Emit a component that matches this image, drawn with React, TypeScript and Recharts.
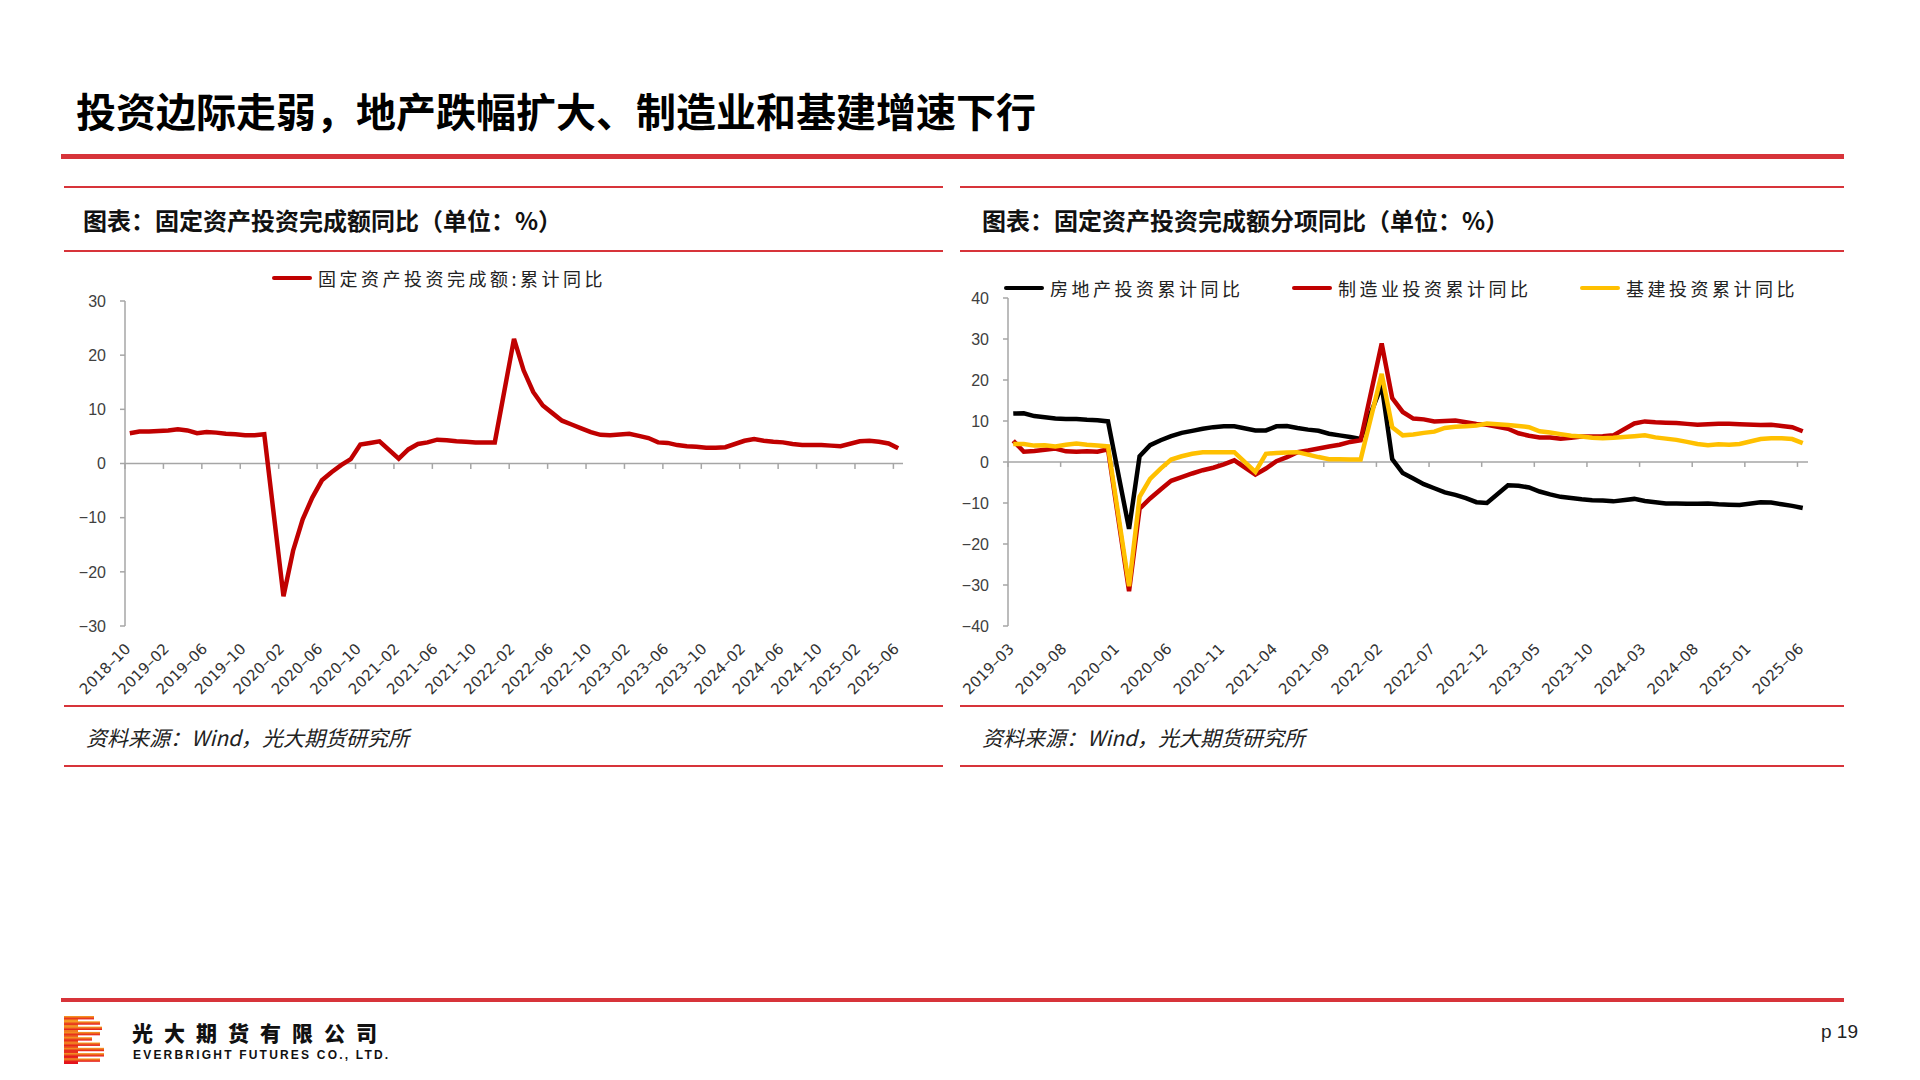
import { Line, LineChart, ReferenceLine, XAxis, YAxis } from "recharts";

const CJK = '"Noto Sans CJK SC", sans-serif';
const LATIN = '"DejaVu Sans", sans-serif';
const ARIAL = '"Liberation Sans", sans-serif';
const RULE = "#d7343a";
const AXIS = "#a6a6a6";

// month list between two yyyy-mm labels (inclusive)
const monthRange = (start: string, end: string) => {
	const [sy, sm] = start.split("-").map(Number);
	const [ey, em] = end.split("-").map(Number);
	const out: string[] = [];
	for (let y = sy, m = sm; y < ey || (y === ey && m <= em); m++) {
		if (m > 12) {
			m = 1;
			y++;
		}
		out.push(`${y}-${String(m).padStart(2, "0")}`);
	}
	return out;
};

// ---- left chart: 固定资产投资完成额:累计同比 ----
const faiMonths = monthRange("2018-10", "2025-06");
const faiTickLabels = [
	"2018-10", "2019-02", "2019-06", "2019-10", "2020-02", "2020-06", "2020-10",
	"2021-02", "2021-06", "2021-10", "2022-02", "2022-06", "2022-10", "2023-02",
	"2023-06", "2023-10", "2024-02", "2024-06", "2024-10", "2025-02", "2025-06",
];
const faiYoY = [
	5.6, 5.9, 5.9, null, 6.1, 6.3, 6.1, 5.6, 5.8, 5.7, 5.5, 5.4, 5.2, 5.2, 5.4,
	null, -24.5, -16.1, -10.3, -6.3, -3.1, -1.6, -0.3, 0.8, 3.5, 3.8, 4.1,
	null, 0.9, 2.6, 3.6, 3.9, 4.4, 4.3, 4.1, 4.0, 3.9, 3.9, 3.9,
	null, 23.0, 17.2, 13.2, 10.7, 9.3, 7.9, 7.2, 6.5, 5.8, 5.3, 5.2,
	null, 5.5, 5.1, 4.7, 3.9, 3.8, 3.4, 3.2, 3.1, 2.9, 2.9, 3.0,
	null, 4.2, 4.5, 4.2, 4.0, 3.9, 3.6, 3.4, 3.4, 3.4, 3.3, 3.2,
	null, 4.1, 4.2, 4.0, 3.7, 2.8,
];

// ---- right chart: 分项同比 ----
const subMonths = monthRange("2019-03", "2025-06");
const subTickLabels = [
	"2019-03", "2019-08", "2020-01", "2020-06", "2020-11", "2021-04", "2021-09",
	"2022-02", "2022-07", "2022-12", "2023-05", "2023-10", "2024-03", "2024-08",
	"2025-01", "2025-06",
];
const realEstateYoY = [
	11.8, 11.9, 11.2, 10.9, 10.6, 10.5, 10.5, 10.3, 10.2, 9.9,
	null, -16.3, 1.4, 4.1, 5.3, 6.3, 7.1, 7.6, 8.1, 8.5, 8.7, 8.7,
	null, 7.7, 7.7, 8.7, 8.8, 8.3, 7.9, 7.6, 6.9, 6.5, 6.1, 5.6,
	null, 18.7, 0.7, -2.7, -4.0, -5.4, -6.4, -7.4, -8.0, -8.8, -9.8, -10.0,
	null, -5.7, -5.8, -6.2, -7.2, -7.9, -8.5, -8.8, -9.1, -9.3, -9.4, -9.6,
	null, -9.0, -9.5, -9.8, -10.1, -10.1, -10.2, -10.2, -10.1, -10.3, -10.4, -10.5,
	null, -9.8, -9.9, -10.3, -10.7, -11.2,
];
const manufacturingYoY = [
	5.2, 2.5, 2.7, 3.0, 3.3, 2.6, 2.5, 2.6, 2.5, 3.1,
	null, -31.5, -11.4, -8.9, -6.7, -4.6, -3.7, -2.8, -2.0, -1.4, -0.6, 0.4,
	null, -3.1, -1.6, 0.2, 1.2, 2.4, 2.8, 3.3, 3.8, 4.2, 4.9, 5.3,
	null, 28.9, 15.6, 12.2, 10.6, 10.4, 9.9, 10.0, 10.1, 9.7, 9.3, 9.1,
	null, 8.1, 7.0, 6.4, 6.0, 6.0, 5.7, 5.9, 6.2, 6.2, 6.3, 6.5,
	null, 9.4, 9.9, 9.7, 9.6, 9.5, 9.3, 9.1, 9.2, 9.3, 9.3, 9.2,
	null, 9.0, 9.1, 8.8, 8.5, 7.5,
];
const infrastructureYoY = [
	4.4, 4.4, 4.0, 4.1, 3.8, 4.2, 4.5, 4.2, 4.0, 3.8,
	null, -30.3, -8.5, -4.1, -1.6, 0.6, 1.4, 2.0, 2.4, 2.4, 2.4, 2.4,
	null, -2.4, 2.0, 2.2, 2.3, 2.4, 1.8, 1.2, 0.7, 0.7, 0.6, 0.6,
	null, 21.5, 8.5, 6.5, 6.7, 7.1, 7.4, 8.3, 8.6, 8.7, 8.9, 9.4,
	null, 9.0, 8.8, 8.5, 7.5, 7.2, 6.8, 6.4, 6.2, 5.9, 5.8, 5.9,
	null, 6.3, 6.5, 6.0, 5.7, 5.4, 4.9, 4.4, 4.1, 4.3, 4.2, 4.4,
	null, 5.6, 5.8, 5.8, 5.6, 4.6,
];

// points sit in the middle of each month slot, ticks on the slot edges
const faiData = faiMonths.map((m, i) => ({ month: m, t: i + 0.5, fai: faiYoY[i] }));
const subData = subMonths.map((m, i) => ({
	month: m,
	t: i + 0.5,
	re: realEstateYoY[i],
	mfg: manufacturingYoY[i],
	infra: infrastructureYoY[i],
}));

const fmtY = (v: number) => (v < 0 ? `−${Math.abs(v)}` : `${v}`);

const XTick = ({ x, y, payload, months }: any) => {
	const label = months[Math.floor(payload.value)].replace("-", "–");
	return (
		<g transform={`translate(${x - 2},${y + 12}) rotate(-45)`}>
			<text textAnchor="end" dy="0.35em" fontSize={15} fill="#333" fontFamily={LATIN}>
				{label}
			</text>
		</g>
	);
};

const yTick = { fill: "#404040", fontSize: 16, fontFamily: ARIAL };

const AxisParts = ({
	months,
	tickLabels,
	tickLen,
}: { months: string[]; tickLabels: string[]; tickLen: number }) => {
	const idx = tickLabels.map((l) => months.indexOf(l));
	return (
		<>
			<ReferenceLine y={0} stroke={AXIS} strokeWidth={1.5} />
			{idx.map((i) => (
				<ReferenceLine
					key={i}
					segment={[
						{ x: i, y: 0 },
						{ x: i, y: -tickLen },
					]}
					stroke={AXIS}
					strokeWidth={1.5}
				/>
			))}
		</>
	);
};

const LegendItem = ({
	left,
	top,
	color,
	text,
}: { left: number; top: number; color: string; text: string }) => (
	<div style={{ position: "absolute", left, top, display: "flex", alignItems: "center" }}>
		<div style={{ width: 40, height: 4, background: color, borderRadius: 2, marginRight: 6 }} />
		<span style={{ fontFamily: CJK, fontSize: 18, letterSpacing: 3.5, color: "#222", lineHeight: "24px" }}>
			{text}
		</span>
	</div>
);

const Rule = ({ left, top, width, h = 2 }: { left: number; top: number; width: number; h?: number }) => (
	<div style={{ position: "absolute", left, top, width, height: h, background: RULE }} />
);

const Header = ({ left, text }: { left: number; text: string }) => (
	<div
		style={{
			position: "absolute",
			left,
			top: 205,
			fontFamily: CJK,
			fontSize: 24,
			fontWeight: 700,
			color: "#111",
			lineHeight: "30px",
		}}
	>
		{text}
	</div>
);

const Source = ({ left }: { left: number }) => (
	<div
		style={{
			position: "absolute",
			left,
			top: 723,
			fontFamily: CJK,
			fontSize: 21,
			fontStyle: "italic",
			color: "#222",
			lineHeight: "28px",
		}}
	>
		资料来源：Wind，光大期货研究所
	</div>
);

const FaiChart = () => (
	<LineChart width={880} height={445} data={faiData} margin={{ top: 46, right: 41, bottom: 0, left: 0 }}>
		<XAxis
			type="number"
			dataKey="t"
			domain={[0, faiMonths.length]}
			ticks={faiTickLabels.map((l) => faiMonths.indexOf(l) + 0.5)}
			interval={0}
			axisLine={false}
			tickLine={false}
			height={74}
			tick={(p: any) => <XTick {...p} months={faiMonths} />}
		/>
		<YAxis
			domain={[-30, 30]}
			ticks={[-30, -20, -10, 0, 10, 20, 30]}
			interval={0}
			width={61}
			axisLine={{ stroke: AXIS, strokeWidth: 1.5 }}
			tickLine={{ stroke: AXIS, strokeWidth: 1.5 }}
			tickSize={5}
			tickMargin={14}
			tick={yTick}
			tickFormatter={fmtY}
		/>
		{AxisParts({ months: faiMonths, tickLabels: faiTickLabels, tickLen: 1 })}
		<Line
			type="linear"
			dataKey="fai"
			stroke="#c00000"
			strokeWidth={4.5}
			dot={false}
			activeDot={false}
			connectNulls
			isAnimationActive={false}
		/>
	</LineChart>
);

const SubChart = () => (
	<LineChart width={914} height={445} data={subData} margin={{ top: 43, right: 36, bottom: 0, left: 0 }}>
		<XAxis
			type="number"
			dataKey="t"
			domain={[0, subMonths.length]}
			ticks={subTickLabels.map((l) => subMonths.indexOf(l) + 0.5)}
			interval={0}
			axisLine={false}
			tickLine={false}
			height={74}
			tick={(p: any) => <XTick {...p} months={subMonths} />}
		/>
		<YAxis
			domain={[-40, 40]}
			ticks={[-40, -30, -20, -10, 0, 10, 20, 30, 40]}
			interval={0}
			width={78}
			axisLine={{ stroke: AXIS, strokeWidth: 1.5 }}
			tickLine={{ stroke: AXIS, strokeWidth: 1.5 }}
			tickSize={5}
			tickMargin={14}
			tick={yTick}
			tickFormatter={fmtY}
		/>
		{AxisParts({ months: subMonths, tickLabels: subTickLabels, tickLen: 1.2 })}
		<Line type="linear" dataKey="re" stroke="#000000" strokeWidth={4.5} dot={false} activeDot={false} connectNulls isAnimationActive={false} />
		<Line type="linear" dataKey="mfg" stroke="#c00000" strokeWidth={4.5} dot={false} activeDot={false} connectNulls isAnimationActive={false} />
		<Line type="linear" dataKey="infra" stroke="#ffc000" strokeWidth={4.5} dot={false} activeDot={false} connectNulls isAnimationActive={false} />
	</LineChart>
);

const Logo = () => (
	<svg width={48} height={48} style={{ position: "absolute", left: 64, top: 1016 }}>
		<defs>
			<linearGradient id="lg" x1="0" y1="0" x2="0" y2="1">
				<stop offset="0" stopColor="#f6a623" />
				<stop offset="1" stopColor="#e3101b" />
			</linearGradient>
		</defs>
		<rect x={0} y={0} width={14} height={48} fill="url(#lg)" />
		{[30, 36, 38, 36, 28, 36, 40, 40, 36].map((w, k) => (
			<rect key={k} x={0} y={k * 5.3} width={w} height={3.4} fill="url(#lg)" />
		))}
	</svg>
);

export default function App() {
	return (
		<div
			style={{
				position: "absolute",
				left: 0,
				top: 0,
				width: 1920,
				height: 1080,
				background: "#fff",
				overflow: "hidden",
			}}
		>
			<div
				style={{
					position: "absolute",
					left: 76,
					top: 86,
					fontFamily: CJK,
					fontSize: 40,
					fontWeight: 700,
					color: "#000",
					lineHeight: "48px",
				}}
			>
				投资边际走弱，地产跌幅扩大、制造业和基建增速下行
			</div>
			<Rule left={61} top={154} width={1783} h={5} />

			{/* left panel */}
			<Rule left={64} top={186} width={879} />
			<Header left={83} text="图表：固定资产投资完成额同比（单位：%）" />
			<Rule left={64} top={250} width={879} />
			<div style={{ position: "absolute", left: 64, top: 255 }}>
				<FaiChart />
			</div>
			<LegendItem left={272} top={266} color="#c00000" text="固定资产投资完成额:累计同比" />
			<Rule left={64} top={705} width={879} />
			<Source left={86} />
			<Rule left={64} top={765} width={879} />

			{/* right panel */}
			<Rule left={960} top={186} width={884} />
			<Header left={982} text="图表：固定资产投资完成额分项同比（单位：%）" />
			<Rule left={960} top={250} width={884} />
			<div style={{ position: "absolute", left: 930, top: 255 }}>
				<SubChart />
			</div>
			<LegendItem left={1004} top={276} color="#000000" text="房地产投资累计同比" />
			<LegendItem left={1292} top={276} color="#c00000" text="制造业投资累计同比" />
			<LegendItem left={1580} top={276} color="#ffc000" text="基建投资累计同比" />
			<Rule left={960} top={705} width={884} />
			<Source left={982} />
			<Rule left={960} top={765} width={884} />

			{/* footer */}
			<Rule left={61} top={998} width={1783} h={4} />
			<Logo />
			<div
				style={{
					position: "absolute",
					left: 132,
					top: 1021,
					fontFamily: CJK,
					fontSize: 21,
					fontWeight: 900,
					letterSpacing: 11,
					color: "#111",
					lineHeight: "22px",
				}}
			>
				光大期货有限公司
			</div>
			<div
				style={{
					position: "absolute",
					left: 133,
					top: 1048,
					fontFamily: ARIAL,
					fontSize: 12,
					fontWeight: 700,
					letterSpacing: 2.2,
					color: "#111",
					lineHeight: "14px",
				}}
			>
				EVERBRIGHT FUTURES CO., LTD.
			</div>
			<div
				style={{
					position: "absolute",
					left: 1821,
					top: 1021,
					fontFamily: ARIAL,
					fontSize: 19,
					color: "#222",
				}}
			>
				p 19
			</div>
		</div>
	);
}
